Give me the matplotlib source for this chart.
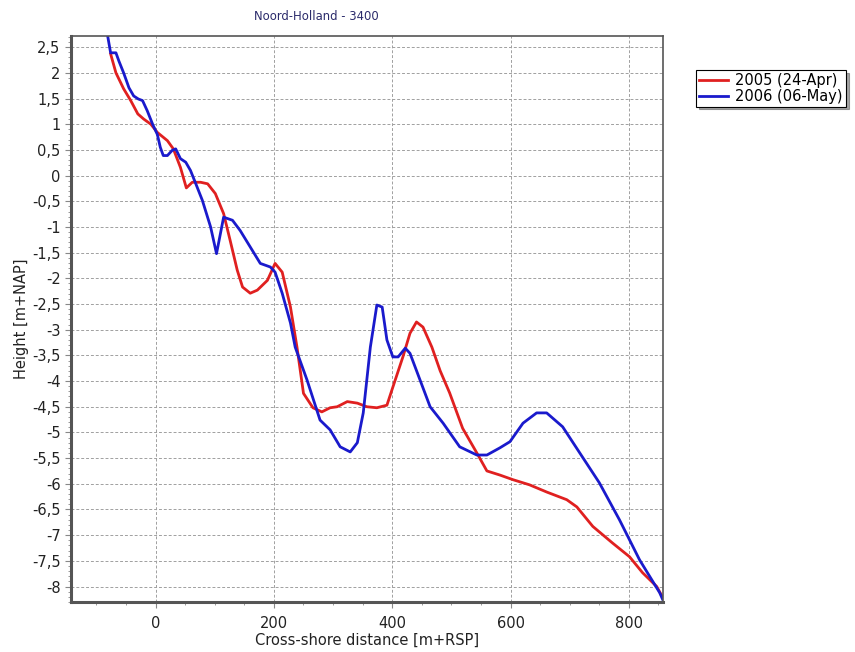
import matplotlib.pyplot as plt
from matplotlib.ticker import MultipleLocator, FuncFormatter

# Profiel 2005 (24-Apr)
x_2005 = [-76, -67, -54, -42, -30, -20, -8, 3, 20, 30, 42, 52, 62, 76, 88, 101, 115, 126,
          138, 147, 160, 172, 189, 202, 214, 228, 239, 250, 266, 281, 295, 307, 324, 341,
          357, 374, 391, 401, 418, 430, 441, 452, 467, 481, 497, 519, 543, 560, 582, 604,
          632, 661, 695, 712, 739, 772, 801, 823, 847, 857]
y_2005 = [2.37, 2.0, 1.69, 1.46, 1.2, 1.1, 1.0, 0.84, 0.68, 0.52, 0.16, -0.24, -0.13, -0.13,
          -0.16, -0.35, -0.74, -1.26, -1.84, -2.17, -2.29, -2.23, -2.04, -1.71, -1.88, -2.56,
          -3.34, -4.24, -4.52, -4.6, -4.52, -4.5, -4.4, -4.43, -4.5, -4.52, -4.47, -4.12,
          -3.53, -3.07, -2.85, -2.95, -3.34, -3.8, -4.23, -4.92, -5.4, -5.75, -5.83, -5.92,
          -6.02, -6.16, -6.31, -6.45, -6.83, -7.15, -7.42, -7.73, -8.0, -8.21]

# Profiel 2006 (06-May)
x_2006 = [-81, -76, -67, -62, -54, -45, -37, -29, -22, -14, -5, 3, 8, 13, 20, 28, 34, 42,
          51, 59, 67, 79, 93, 103, 115, 130, 143, 160, 177, 194, 202, 214, 228, 236, 256,
          278, 295, 312, 329, 341, 351, 363, 374, 383, 391, 401, 410, 422, 430, 447, 464,
          486, 514, 543, 560, 582, 599, 621, 644, 661, 688, 717, 750, 784, 818, 852, 857]
y_2006 = [2.72, 2.39, 2.39, 2.23, 2.0, 1.71, 1.55, 1.49, 1.46, 1.26, 1.0, 0.8, 0.55, 0.39,
          0.39, 0.49, 0.52, 0.33, 0.26, 0.1, -0.13, -0.48, -1.0, -1.52, -0.81, -0.87, -1.07,
          -1.39, -1.71, -1.78, -1.88, -2.29, -2.87, -3.34, -3.98, -4.76, -4.95, -5.28, -5.38,
          -5.2, -4.62, -3.34, -2.52, -2.56, -3.2, -3.53, -3.53, -3.36, -3.46, -3.98, -4.5,
          -4.82, -5.28, -5.44, -5.44, -5.3, -5.18, -4.82, -4.62, -4.62, -4.89, -5.4, -5.98,
          -6.7, -7.48, -8.12, -8.25]

fig = plt.figure(figsize=(8.55, 6.52), dpi=100)
ax = fig.add_axes([0.083, 0.076, 0.692, 0.869])

ax.plot(x_2005, y_2005, color='#e02020', linewidth=2, label='2005 (24-Apr)')
ax.plot(x_2006, y_2006, color='#1a1acc', linewidth=2, label='2006 (06-May)')

ax.set_xlim(-143, 857)
ax.set_ylim(-8.31, 2.72)

ax.xaxis.set_major_locator(MultipleLocator(200))
ax.xaxis.set_minor_locator(MultipleLocator(50))
ax.yaxis.set_major_locator(MultipleLocator(0.5))
ax.yaxis.set_minor_locator(MultipleLocator(0.1))

komma = FuncFormatter(lambda v, pos: f'{v:g}'.replace('.', ','))
ax.yaxis.set_major_formatter(komma)
ax.xaxis.set_major_formatter(FuncFormatter(lambda v, pos: f'{v:g}'))

ax.grid(True, which='major', color='#a0a0a0', linestyle=(0, (3, 2)), linewidth=0.7)
ax.tick_params(axis='both', which='major', labelsize=10.5, labelcolor='#222222',
               color='#888888', length=4, width=0.8)
ax.tick_params(axis='x', which='major', pad=6)
ax.tick_params(axis='both', which='minor', length=2, color='#999999', width=0.7)

for kant in ['left', 'bottom']:
    ax.spines[kant].set_linewidth(2.2)
    ax.spines[kant].set_color('#555555')
for kant in ['top', 'right']:
    ax.spines[kant].set_linewidth(1.2)
    ax.spines[kant].set_color('#555555')

fig.text(316 / 855, 1 - 17 / 652, 'Noord-Holland - 3400', fontsize=8.4, color='#2b2b6b',
         ha='center', va='center')
ax.set_xlabel('Cross-shore distance [m+RSP]', fontsize=10.5, color='#222222', labelpad=1)
ax.set_ylabel('Height [m+NAP]', fontsize=10.5, color='#222222', labelpad=2)

leg = fig.legend(loc='upper left', bbox_to_anchor=(696 / 855, 1 - 70 / 652), fontsize=10.5,
                 frameon=True, fancybox=False, shadow=True, borderpad=0.2,
                 handlelength=2.0, handletextpad=0.5, labelspacing=0.05, borderaxespad=0)
leg.get_frame().set_edgecolor('black')
leg.get_frame().set_linewidth(0.8)

plt.savefig('out.png', dpi=100)
